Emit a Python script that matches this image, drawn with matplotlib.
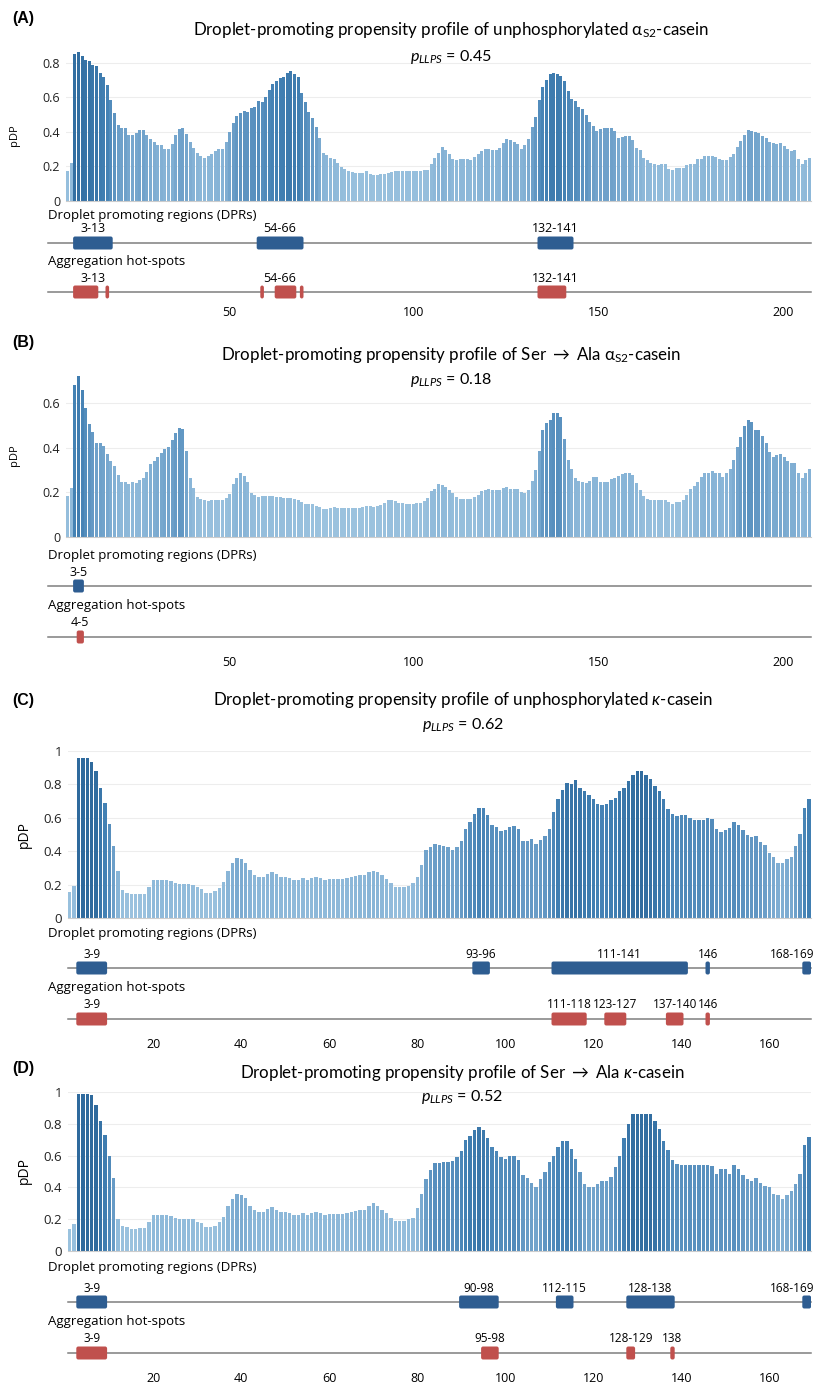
import matplotlib
matplotlib.use("Agg")
import matplotlib.pyplot as plt
import numpy as np
from matplotlib.colors import LinearSegmentedColormap, Normalize
from matplotlib.patches import FancyBboxPatch

plt.rcParams["font.family"] = ["Open Sans", "DejaVu Sans"]
plt.rcParams["mathtext.fontset"] = "custom"
plt.rcParams["mathtext.rm"] = "Lato"
plt.rcParams["mathtext.it"] = "Lato:italic"
plt.rcParams["mathtext.bf"] = "Lato:bold"

W, H = 826, 1390

# ── data: pDP per residue ─────────────────────────────
A_PDP = [0.17, 0.22, 0.85, 0.865, 0.84, 0.82, 0.81, 0.79, 0.785, 0.74,
         0.72, 0.67, 0.585, 0.51, 0.44, 0.42, 0.42, 0.38, 0.38, 0.39,
         0.41, 0.41, 0.38, 0.355, 0.34, 0.32, 0.32, 0.30, 0.30, 0.33,
         0.38, 0.415, 0.42, 0.385, 0.34, 0.305, 0.277, 0.26, 0.25, 0.258,
         0.27, 0.287, 0.30, 0.302, 0.34, 0.40, 0.45, 0.49, 0.51, 0.52,
         0.517, 0.537, 0.546, 0.576, 0.571, 0.605, 0.644, 0.677, 0.697, 0.712,
         0.716, 0.741, 0.755, 0.736, 0.716, 0.624, 0.571, 0.517, 0.478, 0.429,
         0.361, 0.279, 0.263, 0.25, 0.24, 0.22, 0.195, 0.181, 0.17, 0.166,
         0.162, 0.16, 0.16, 0.17, 0.156, 0.15, 0.15, 0.154, 0.156, 0.16,
         0.166, 0.17, 0.17, 0.17, 0.17, 0.17, 0.17, 0.17, 0.17, 0.176,
         0.18, 0.215, 0.25, 0.275, 0.312, 0.293, 0.273, 0.244, 0.238, 0.244,
         0.244, 0.244, 0.238, 0.254, 0.273, 0.287, 0.302, 0.299, 0.293, 0.293,
         0.306, 0.332, 0.355, 0.351, 0.338, 0.326, 0.302, 0.322, 0.357, 0.429,
         0.488, 0.585, 0.663, 0.702, 0.738, 0.741, 0.738, 0.722, 0.693, 0.638,
         0.591, 0.58, 0.546, 0.531, 0.498, 0.459, 0.435, 0.404, 0.416, 0.42,
         0.42, 0.42, 0.404, 0.361, 0.367, 0.375, 0.375, 0.351, 0.308, 0.293,
         0.248, 0.234, 0.219, 0.211, 0.205, 0.211, 0.215, 0.185, 0.18, 0.19,
         0.19, 0.19, 0.205, 0.213, 0.215, 0.24, 0.244, 0.258, 0.258, 0.258,
         0.252, 0.24, 0.234, 0.234, 0.254, 0.273, 0.312, 0.347, 0.38, 0.41,
         0.404, 0.396, 0.39, 0.377, 0.365, 0.341, 0.336, 0.33, 0.332, 0.316,
         0.30, 0.287, 0.293, 0.24, 0.215, 0.234, 0.25]

B_PDP = [0.184, 0.222, 0.684, 0.724, 0.66, 0.579, 0.507, 0.472, 0.421, 0.424,
         0.409, 0.372, 0.342, 0.319, 0.277, 0.249, 0.249, 0.24, 0.247, 0.241,
         0.256, 0.267, 0.292, 0.327, 0.342, 0.357, 0.375, 0.394, 0.402, 0.436,
         0.466, 0.489, 0.484, 0.387, 0.267, 0.222, 0.18, 0.172, 0.165, 0.162,
         0.165, 0.166, 0.165, 0.165, 0.174, 0.192, 0.237, 0.267, 0.289, 0.274,
         0.247, 0.199, 0.187, 0.18, 0.184, 0.184, 0.184, 0.184, 0.181, 0.18,
         0.177, 0.177, 0.177, 0.169, 0.165, 0.157, 0.15, 0.15, 0.147, 0.139,
         0.135, 0.127, 0.127, 0.132, 0.135, 0.132, 0.132, 0.132, 0.132, 0.132,
         0.132, 0.132, 0.136, 0.139, 0.139, 0.136, 0.139, 0.142, 0.154, 0.165,
         0.165, 0.162, 0.154, 0.151, 0.147, 0.147, 0.147, 0.151, 0.154, 0.162,
         0.177, 0.207, 0.214, 0.237, 0.232, 0.226, 0.211, 0.196, 0.18, 0.172,
         0.172, 0.172, 0.172, 0.18, 0.187, 0.207, 0.211, 0.214, 0.211, 0.21,
         0.21, 0.222, 0.226, 0.217, 0.217, 0.217, 0.202, 0.196, 0.211, 0.252,
         0.301, 0.387, 0.48, 0.511, 0.526, 0.556, 0.556, 0.537, 0.439, 0.346,
         0.304, 0.267, 0.252, 0.249, 0.244, 0.252, 0.27, 0.271, 0.247, 0.247,
         0.247, 0.259, 0.267, 0.274, 0.282, 0.289, 0.289, 0.277, 0.241, 0.21,
         0.184, 0.169, 0.165, 0.165, 0.165, 0.165, 0.165, 0.157, 0.147, 0.159,
         0.159, 0.166, 0.187, 0.217, 0.229, 0.247, 0.271, 0.286, 0.286, 0.297,
         0.286, 0.286, 0.27, 0.286, 0.304, 0.346, 0.406, 0.447, 0.496, 0.526,
         0.514, 0.481, 0.481, 0.454, 0.421, 0.382, 0.361, 0.367, 0.372, 0.36,
         0.342, 0.331, 0.334, 0.289, 0.264, 0.289, 0.304]

C_PDP = [0.154, 0.189, 0.956, 0.959, 0.956, 0.936, 0.882, 0.78, 0.691, 0.564,
         0.434, 0.284, 0.17, 0.151, 0.141, 0.141, 0.145, 0.145, 0.183, 0.228,
         0.228, 0.228, 0.228, 0.222, 0.208, 0.203, 0.203, 0.203, 0.199, 0.183,
         0.174, 0.151, 0.151, 0.16, 0.18, 0.216, 0.28, 0.328, 0.357, 0.353,
         0.332, 0.286, 0.257, 0.247, 0.247, 0.264, 0.274, 0.261, 0.245, 0.245,
         0.237, 0.226, 0.226, 0.237, 0.226, 0.237, 0.245, 0.241, 0.226, 0.232,
         0.232, 0.232, 0.232, 0.241, 0.245, 0.251, 0.257, 0.255, 0.274, 0.284,
         0.274, 0.255, 0.236, 0.207, 0.183, 0.183, 0.187, 0.193, 0.212, 0.247,
         0.315, 0.409, 0.425, 0.444, 0.438, 0.429, 0.425, 0.409, 0.425, 0.459,
         0.531, 0.575, 0.622, 0.66, 0.66, 0.614, 0.556, 0.544, 0.521, 0.525,
         0.544, 0.55, 0.531, 0.463, 0.463, 0.473, 0.444, 0.467, 0.492, 0.535,
         0.633, 0.71, 0.766, 0.807, 0.805, 0.824, 0.778, 0.759, 0.737, 0.714,
         0.68, 0.676, 0.685, 0.705, 0.72, 0.761, 0.776, 0.82, 0.855, 0.878,
         0.878, 0.859, 0.83, 0.792, 0.759, 0.714, 0.653, 0.624, 0.608, 0.618,
         0.614, 0.598, 0.585, 0.589, 0.589, 0.598, 0.593, 0.535, 0.512, 0.525,
         0.541, 0.573, 0.556, 0.525, 0.498, 0.486, 0.492, 0.458, 0.44, 0.39,
         0.363, 0.332, 0.328, 0.351, 0.367, 0.43, 0.502, 0.656, 0.71]

D_PDP = [0.14, 0.17, 0.99, 0.99, 0.99, 0.98, 0.92, 0.82, 0.73, 0.60,
         0.46, 0.20, 0.16, 0.15, 0.14, 0.14, 0.145, 0.145, 0.183, 0.228,
         0.228, 0.228, 0.228, 0.222, 0.208, 0.203, 0.203, 0.203, 0.199, 0.183,
         0.174, 0.151, 0.151, 0.16, 0.18, 0.216, 0.28, 0.328, 0.357, 0.353,
         0.332, 0.286, 0.257, 0.247, 0.247, 0.264, 0.274, 0.261, 0.245, 0.245,
         0.237, 0.226, 0.226, 0.237, 0.226, 0.237, 0.245, 0.241, 0.226, 0.232,
         0.232, 0.232, 0.232, 0.241, 0.245, 0.251, 0.257, 0.255, 0.28, 0.30,
         0.28, 0.26, 0.236, 0.207, 0.19, 0.19, 0.19, 0.20, 0.21, 0.27,
         0.36, 0.45, 0.51, 0.554, 0.554, 0.56, 0.56, 0.565, 0.59, 0.631,
         0.70, 0.725, 0.758, 0.777, 0.763, 0.71, 0.652, 0.631, 0.59, 0.579,
         0.596, 0.596, 0.575, 0.48, 0.456, 0.43, 0.40, 0.45, 0.498, 0.56,
         0.596, 0.652, 0.69, 0.694, 0.644, 0.58, 0.496, 0.42, 0.40, 0.40,
         0.42, 0.44, 0.44, 0.465, 0.527, 0.60, 0.71, 0.798, 0.86, 0.86,
         0.86, 0.86, 0.86, 0.819, 0.769, 0.694, 0.633, 0.575, 0.548, 0.538,
         0.538, 0.538, 0.538, 0.538, 0.538, 0.538, 0.535, 0.485, 0.517, 0.517,
         0.485, 0.544, 0.513, 0.48, 0.45, 0.44, 0.456, 0.43, 0.41, 0.40,
         0.36, 0.35, 0.33, 0.35, 0.38, 0.42, 0.485, 0.669, 0.715]

# regions (first, last residue) and their labels
A_DPR = [(3, 13), (54, 66), (132, 141)]
A_DPR_LAB = ["3-13", "54-66", "132-141"]
A_HOT = [(3, 9), (12, 12), (55, 55), (59, 64), (66, 66), (132, 139)]
A_HOT_LAB = [("3-13", 3, 13), ("54-66", 54, 66), ("132-141", 132, 141)]

B_DPR = [(3, 5)]
B_DPR_LAB = ["3-5"]
B_HOT = [(4, 5)]
B_HOT_LAB = [("4-5", 4, 5)]

C_DPR = [(3, 9), (93, 96), (111, 141), (146, 146), (168, 169)]
C_DPR_LAB = ["3-9", "93-96", "111-141", "146", "168-169"]
C_HOT = [(3, 9), (111, 118), (123, 127), (137, 140), (146, 146)]
C_HOT_LAB = [("3-9", 3, 9), ("111-118", 111, 118), ("123-127", 123, 127),
             ("137-140", 137, 140), ("146", 146, 146)]

D_DPR = [(3, 9), (90, 98), (112, 115), (128, 138), (168, 169)]
D_DPR_LAB = ["3-9", "90-98", "112-115", "128-138", "168-169"]
D_HOT = [(3, 9), (95, 98), (128, 129), (138, 138)]
D_HOT_LAB = [("3-9", 3, 9), ("95-98", 95, 98), ("128-129", 128, 129),
             ("138", 138, 138)]

AS2_TICKS = [50, 100, 150, 200]
K_TICKS = [20, 40, 60, 80, 100, 120, 140, 160]

TITLES = [r"Droplet-promoting propensity profile of unphosphorylated $\mathrm{α}_\mathrm{S2}$-casein",
          r"Droplet-promoting propensity profile of Ser $\rightarrow$ Ala $\mathrm{α}_\mathrm{S2}$-casein",
          r"Droplet-promoting propensity profile of unphosphorylated $\kappa$-casein",
          r"Droplet-promoting propensity profile of Ser $\rightarrow$ Ala $\kappa$-casein"]
P_LLPS = ["0.45", "0.18", "0.62", "0.52"]
TAGS = ["(A)", "(B)", "(C)", "(D)"]

BLUE = "#2e5d91"
RED = "#c0504d"
CMAP = LinearSegmentedColormap.from_list(
    "pdp", ["#9fc5e0", "#86b3d6", "#5f95c2", "#4280b3", "#2f6a9d"])
NORM = Normalize(0.1, 0.9)

# ── layout in pixels ──────────────────────────────────
LAY = [
    dict(left=65.9, ppr=3.6, base=200.5, ppu=171.9, ymax=0.9, yt=[0, .2, .4, .6, .8],
         tag_y=18, title=(451, 30), p=(451, 56.5), pdp=(15, 135, 8), line0=48, yls=9,
         labfs=9, dtxt=215, dpr=243, htxt=262, hot=292, tick=313, ruler=(5.84, 207.6)),
    dict(left=65.9, ppr=3.6, base=537, ppu=222.8, ymax=0.75, yt=[0, .2, .4, .6],
         tag_y=343, title=(451, 355), p=(451, 380), pdp=(15, 455, 8), line0=48, yls=9,
         labfs=9, dtxt=556, dpr=586, htxt=606, hot=637, tick=662, ruler=(5.84, 207.6)),
    dict(left=67.5, ppr=4.4, base=918, ppu=167, ymax=1.0, yt=[0, .2, .4, .6, .8, 1],
         tag_y=700, title=(463, 700), p=(463, 725), pdp=(24, 835, 10), line0=None, yls=9.5,
         labfs=8.5, dtxt=933, dpr=968, htxt=988, hot=1019, tick=1044, ruler=None),
    dict(left=67.5, ppr=4.4, base=1251, ppu=159, ymax=1.0, yt=[0, .2, .4, .6, .8, 1],
         tag_y=1068, title=(462.5, 1073), p=(462, 1097), pdp=(24, 1170, 10), line0=None, yls=9.5,
         labfs=8.5, dtxt=1268, dpr=1302, htxt=1322, hot=1353, tick=1378, ruler=None),
]


def px_rect(x0, y0, x1, y1):
    return [x0 / W, 1 - y1 / H, (x1 - x0) / W, (y1 - y0) / H]


def fmt(v):
    return "0" if v == 0 else ("1" if v == 1 else f"{v:.1f}")


def draw_panel(fig, i, vals, dpr, dpr_lab, hot, hot_lab, ticks):
    lay = LAY[i]
    n = len(vals)
    x0, ppr = lay["left"], lay["ppr"]
    x1 = x0 + n * ppr
    top = lay["base"] - lay["ymax"] * lay["ppu"]

    # bars
    ax = fig.add_axes(px_rect(x0, top, x1, lay["base"]))
    v = np.asarray(vals)
    ax.bar(np.arange(1, n + 1), v, width=0.78, color=CMAP(NORM(v)), linewidth=0)
    ax.set_xlim(0.5, n + 0.5)
    ax.set_ylim(0, lay["ymax"])
    ax.set_xticks([])
    ax.set_yticks(lay["yt"])
    ax.set_yticklabels([fmt(t) for t in lay["yt"]])
    ax.tick_params(axis="y", length=0, pad=4, labelsize=lay["yls"], labelcolor="#222222")
    ax.grid(axis="y", color="#ededed", lw=0.8)
    ax.set_axisbelow(True)
    for s in ("top", "right", "left"):
        ax.spines[s].set_visible(False)
    ax.spines["bottom"].set_color("#cccccc")

    # headings
    fig.text(12 / W, 1 - lay["tag_y"] / H, TAGS[i], fontfamily="Liberation Sans",
             fontweight="bold", fontsize=11.5, va="center", ha="left")
    tx, ty = lay["title"]
    fig.text(tx / W, 1 - ty / H, TITLES[i], fontfamily=["Lato", "DejaVu Sans"],
             fontsize=12.2, ha="center", va="center",
             bbox=dict(fc="white", ec="none", pad=1))
    px_, py_ = lay["p"]
    fig.text(px_ / W, 1 - py_ / H, r"$p_{LLPS}$ = " + P_LLPS[i],
             fontfamily=["Lato", "DejaVu Sans"], fontsize=11.6, ha="center", va="center")
    qx, qy, qs = lay["pdp"]
    fig.text(qx / W, 1 - qy / H, "pDP", rotation=90, fontsize=qs, ha="center", va="center")

    # region tracks (y in pixels)
    tr = fig.add_axes(px_rect(x0, lay["base"], x1, H))
    tr.set_xlim(0.5, n + 0.5)
    tr.set_ylim(H, lay["base"])
    tr.axis("off")
    xl = 0.5 if lay["line0"] is None else 0.5 - (x0 - lay["line0"]) / ppr
    rnd = 2.0 / ppr
    for yy, segs, col in ((lay["dpr"], dpr, BLUE), (lay["hot"], hot, RED)):
        tr.plot([xl, n + 0.5], [yy, yy], color="#7f7f7f", lw=1.1, zorder=1, clip_on=False)
        for a, b in segs:
            tr.add_patch(FancyBboxPatch((a - 0.5, yy - 6.5), b - a + 1, 13,
                                        boxstyle=f"round,pad=0,rounding_size={rnd}",
                                        mutation_aspect=ppr, fc=col, ec="none", zorder=3))
    for lab, (a, b) in zip(dpr_lab, dpr):
        tr.text(min((a + b) / 2, n - 3.8 * 4.4 / ppr), lay["dpr"] - 14, lab,
                ha="center", va="center", fontsize=lay["labfs"])
    for lab, a, b in hot_lab:
        tr.text((a + b) / 2, lay["hot"] - 14, lab, ha="center", va="center",
                fontsize=lay["labfs"])
    fig.text(48 / W, 1 - lay["dtxt"] / H, "Droplet promoting regions (DPRs)",
             fontsize=9.5, ha="left", va="center")
    fig.text(48 / W, 1 - lay["htxt"] / H, "Aggregation hot-spots",
             fontsize=9.5, ha="left", va="center")

    # residue ruler
    ru = fig.add_axes(px_rect(x0, lay["tick"] - 8, x1, lay["tick"] + 8))
    ru.set_xlim(lay["ruler"] if lay["ruler"] else (0.5, n + 0.5))
    ru.set_ylim(0, 1)
    ru.axis("off")
    for t in ticks:
        ru.text(t, 0.5, str(t), ha="center", va="center", fontsize=9)


fig = plt.figure(figsize=(W / 100, H / 100), dpi=100)
draw_panel(fig, 0, A_PDP, A_DPR, A_DPR_LAB, A_HOT, A_HOT_LAB, AS2_TICKS)
draw_panel(fig, 1, B_PDP, B_DPR, B_DPR_LAB, B_HOT, B_HOT_LAB, AS2_TICKS)
draw_panel(fig, 2, C_PDP, C_DPR, C_DPR_LAB, C_HOT, C_HOT_LAB, K_TICKS)
draw_panel(fig, 3, D_PDP, D_DPR, D_DPR_LAB, D_HOT, D_HOT_LAB, K_TICKS)
fig.savefig("out.png", dpi=100)
